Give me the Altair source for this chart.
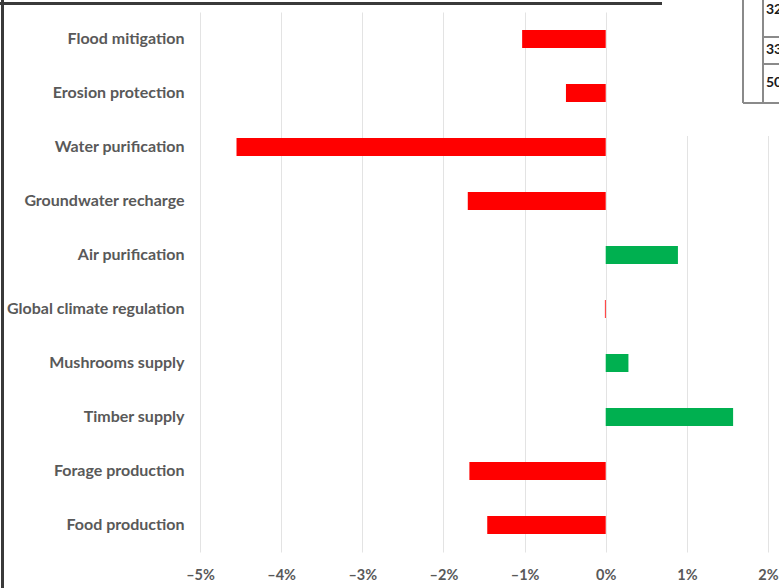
import altair as alt
import pandas as pd

# Change in ecosystem service supply (%), top to bottom
services = [
    "Flood mitigation",
    "Erosion protection",
    "Water purification",
    "Groundwater recharge",
    "Air purification",
    "Global climate regulation",
    "Mushrooms supply",
    "Timber supply",
    "Forage production",
    "Food production",
]
change_pct = [-1.03, -0.49, -4.55, -1.70, 0.89, -0.01, 0.28, 1.57, -1.68, -1.46]
x_ticks = [-5, -4, -3, -2, -1, 0, 1, 2]

# Fragment of the neighbouring table at the upper right
table_cells = ["32", "33", "50"]
table_cell_y = [-2, 38, 71]

df = pd.DataFrame({"service": services, "change": change_pct})

W, H = 568, 540
PAD = {"left": 200, "top": 12, "right": 11, "bottom": 36}
FONT = "Lato"
GREY = "#595959"

bars = alt.Chart(df).mark_bar().encode(
    y=alt.Y(
        "service:N",
        sort=services,
        scale=alt.Scale(paddingInner=0.6667, paddingOuter=0.3333),
        axis=alt.Axis(
            title=None, domain=False, ticks=False, grid=False,
            labelFont=FONT, labelFontSize=16, labelFontWeight="bold",
            labelColor=GREY, labelPadding=16, labelLimit=220,
        ),
    ),
    x=alt.X(
        "change:Q",
        scale=alt.Scale(domain=[-5, 2], nice=False, zero=True),
        axis=alt.Axis(
            title=None, values=x_ticks, domain=False, ticks=False,
            grid=True, gridColor="#e3e3e3", gridWidth=1,
            labelFont=FONT, labelFontSize=14.5, labelFontWeight="bold",
            labelColor=GREY, labelPadding=16, labelFlush=False,
            labelExpr="datum.value < 0 ? '\u2013' + abs(datum.value) + '%' : datum.value + '%'",
        ),
    ),
    color=alt.condition(
        alt.datum.change < 0, alt.value("#FF0000"), alt.value("#00B050")
    ),
)

# White backing of the table fragment, hiding the grid behind it
table_bg = alt.Chart(df).mark_rect(color="white").encode(
    x=alt.value(462), x2=alt.value(590), y=alt.value(-12), y2=alt.value(124)
)

frame_top = alt.Chart(df).mark_rule(color="#3a3a3a", strokeWidth=2.5).encode(
    x=alt.value(-200), x2=alt.value(462), y=alt.value(-8.5)
)
frame_left = alt.Chart(df).mark_rule(color="#3a3a3a", strokeWidth=2.5).encode(
    x=alt.value(-197.5), y=alt.value(-12), y2=alt.value(580)
)

tcol = "#8a8a8a"
t_v1 = alt.Chart(df).mark_rule(color=tcol, strokeWidth=1.5).encode(
    x=alt.value(543), y=alt.value(-12), y2=alt.value(91)
)
t_v2 = alt.Chart(df).mark_rule(color=tcol, strokeWidth=1.5).encode(
    x=alt.value(563), y=alt.value(-12), y2=alt.value(91)
)
t_h0 = alt.Chart(df).mark_rule(color=tcol, strokeWidth=1.5).encode(
    x=alt.value(543), x2=alt.value(590), y=alt.value(91)
)
t_h1 = alt.Chart(df).mark_rule(color=tcol, strokeWidth=1.2).encode(
    x=alt.value(563), x2=alt.value(590), y=alt.value(25)
)
t_h2 = alt.Chart(df).mark_rule(color=tcol, strokeWidth=1.2).encode(
    x=alt.value(563), x2=alt.value(590), y=alt.value(52)
)

cell_layers = []
for txt, ty in zip(table_cells, table_cell_y):
    cell_layers.append(
        alt.Chart(pd.DataFrame({"cell": [txt]})).mark_text(
            font=FONT, fontSize=14, fontWeight="bold", color="#1a1a1a",
            align="left", baseline="middle",
        ).encode(x=alt.value(566), y=alt.value(ty), text="cell:N")
    )

chart = (
    alt.layer(bars, table_bg, frame_top, frame_left,
              t_v1, t_v2, t_h0, t_h1, t_h2, *cell_layers)
    .properties(width=W, height=H, padding=PAD, autosize=alt.AutoSizeParams(type="none"),
                background="white")
    .configure_view(strokeWidth=0)
)

chart.save("out.html", embed_options={"renderer": "svg", "actions": False})
